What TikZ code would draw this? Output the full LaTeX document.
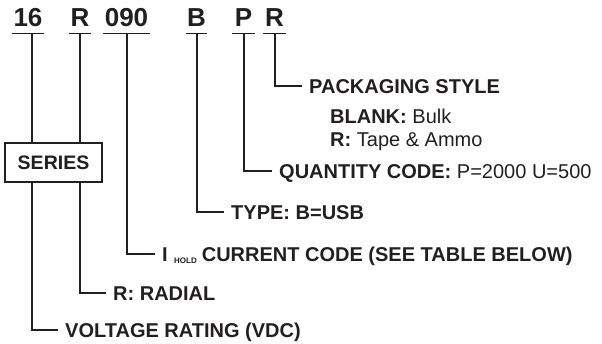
\documentclass[tikz,border=0pt]{standalone}
\usepackage{fontspec}
\setmainfont{Liberation Sans}
\definecolor{ink}{RGB}{35,31,32}
\begin{document}
\begin{tikzpicture}[x=1pt,y=-1pt,
  every node/.style={text=ink},
  codetxt/.style={font=\fontsize{26}{30}\selectfont\bfseries, inner xsep=1pt, inner ysep=0pt, text height=18.6pt, text depth=0pt, anchor=south},
  lab/.style={font=\fontsize{20}{24}\selectfont, anchor=west, inner xsep=7pt, inner ysep=0pt, text height=14.3pt, text depth=0pt},
  sub/.style={font=\fontsize{20}{24}\selectfont, anchor=west, inner sep=0pt, text height=14.3pt, text depth=0pt},
  wire/.style={draw=ink, line width=1.7pt},
  ul/.style={draw=ink, line width=1.9pt},
  seriesbox/.style={draw=ink, line width=1.7pt, fill=white, minimum width=97pt, minimum height=39pt, inner sep=0pt, font=\fontsize{19.5}{24}\selectfont\bfseries}
]
\useasboundingbox (0,0) rectangle (602,343);
% codes
\node[codetxt] (c16) at (28,26.7) {16};
\node[codetxt] (cR) at (80,26.7) {R};
\node[codetxt] (c090) at (126.5,26.7) {090};
\node[codetxt] (cB) at (196.5,26.7) {B};
\node[codetxt] (cP) at (243.5,26.7) {P};
\node[codetxt] (cR2) at (274.5,26.7) {R};
% underlines
\draw[ul] (12,33.5) -- (44,33.5);
\draw[ul] (69,33.5) -- (91,33.5);
\draw[ul] (103,33.5) -- (150,33.5);
\draw[ul] (186,33.5) -- (207,33.5);
\draw[ul] (232,33.5) -- (255,33.5);
\draw[ul] (263,33.5) -- (286,33.5);
% drop points
\coordinate (d16) at (31.7,33.5);
\coordinate (dR) at (80,33.5);
\coordinate (d090) at (126.7,33.5);
\coordinate (dB) at (196.7,33.5);
\coordinate (dP) at (244,33.5);
\coordinate (dR2) at (275,33.5);
% labels
\node[lab] (pack) at (302,86) {\bfseries PACKAGING STYLE};
\node[sub] (blank) at (330,116) {\bfseries BLANK:\mdseries\ Bulk};
\node[sub] (tape) at (330,139) {\bfseries R:\mdseries\ Tape \& Ammo};
\node[lab] (qty) at (272,171) {\bfseries QUANTITY CODE:\mdseries\ P=2000 U=500};
\node[lab] (type) at (224,212) {\bfseries TYPE: B=USB};
\node[lab] (ihold) at (155,254) {\bfseries I\hspace{6.4pt}\raisebox{-2pt}{\fontsize{8}{8}\selectfont HOLD}\hspace{5pt}CURRENT CODE (SEE TABLE BELOW)};
\node[lab] (radial) at (106,293) {\bfseries R: RADIAL};
\node[lab] (volt) at (58,330) {\bfseries VOLTAGE RATING (VDC)};
% connectors
\draw[wire] (dR2) |- (pack.west);
\draw[wire] (dP) |- (qty.west);
\draw[wire] (dB) |- (type.west);
\draw[wire] (d090) |- (ihold.west);
\draw[wire] (dR) |- (radial.west);
\draw[wire] (d16) |- (volt.west);
% series box
\node[seriesbox] (series) at (53.5,162.5) {SERIES};
\end{tikzpicture}
\end{document}
